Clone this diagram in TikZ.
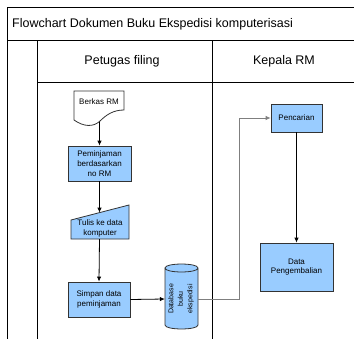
\documentclass[tikz,border=0pt]{standalone}
\usepackage{fontspec}
\setmainfont{Liberation Sans}
\usetikzlibrary{arrows.meta}
\definecolor{boxblue}{HTML}{99CCFF}
\definecolor{edgegray}{HTML}{333333}
\definecolor{flowgray}{HTML}{7F7F7F}
\begin{document}
\begin{tikzpicture}[x=1pt,y=-1pt,
  frame/.style={draw=black,line width=0.9pt},
  procbox/.style={draw=edgegray,fill=boxblue,line width=0.8pt,rectangle,inner sep=1pt,
    align=center,font=\fontsize{8}{9.8}\selectfont},
  boxtext/.style={align=center,inner sep=0pt,font=\fontsize{8}{10.5}\selectfont},
  shapeline/.style={draw=edgegray,fill=boxblue,line width=0.8pt},
  flow/.style={draw=black,line width=0.8pt,-{Latex[length=5pt,width=4.5pt]}},
  grayflow/.style={draw=flowgray,line width=0.8pt,-{Latex[length=5pt,width=4.5pt]}},
  heading/.style={font=\fontsize{12.5}{14}\selectfont,inner sep=0pt}]
\useasboundingbox (0,0) rectangle (354,338);
\clip (0,0) rectangle (354,338);
\fill[white] (0,0) rectangle (354,338);

% swimlane frame
\draw[frame] (7,345) -- (7,7) -- (360,7);
\draw[frame] (7,40) -- (360,40);
\draw[frame] (37,40) -- (37,345);
\draw[frame] (212,40) -- (212,345);
\draw[frame] (37,82) -- (360,82);
\node[heading,anchor=west] (title) at (12,24) {Flowchart Dokumen Buku Ekspedisi komputerisasi};
\node[heading] (lane1) at (122,61) {Petugas filing};
\node[heading] (lane2) at (284,61) {Kepala RM};

% document: Berkas RM
\coordinate (dtl) at (74,91);
\coordinate (dtr) at (124,91);
\coordinate (dbr) at (124,110);
\coordinate (dbl) at (74,120);
\coordinate (dbot) at (99.5,121.5);
\draw[draw=edgegray,fill=white,line width=0.8pt]
  (dtl) -- (dtr) -- (dbr)
  .. controls (113,110) and (106,115) .. (dbot)
  .. controls (93,127) and (84,127) .. (dbl) -- cycle;
\node[boxtext] (doc) at (99,102) {Berkas RM};

% process: peminjaman berdasarkan no RM
\node[procbox,minimum width=63pt,minimum height=35pt] (p1) at (99.5,163.5)
  {Peminjaman\\berdasarkan\\no RM};

% manual input
\coordinate (mitl) at (71,220);
\coordinate (mitr) at (129,205);
\coordinate (mibr) at (129,239);
\coordinate (mibl) at (71,239);
\coordinate (mitop) at (99.5,212.6);
\coordinate (mibot) at (99.5,239);
\draw[shapeline] (mitl) -- (mitr) -- (mibr) -- (mibl) -- cycle;
\node[boxtext] (mi) at (100,228.5) {Tulis ke data\\komputer};

% process: simpan data
\node[procbox,minimum width=62pt,minimum height=35pt] (p2) at (99,299.5)
  {Simpan data\\peminjaman};

% database cylinder
\fill[boxblue] (165,268) -- (165,325) .. controls (165,330.3) and (198,330.3) .. (198,325)
  -- (198,268) .. controls (198,262.7) and (165,262.7) .. (165,268) -- cycle;
\draw[edgegray,line width=0.8pt] (165,268) -- (165,325) .. controls (165,330.3) and (198,330.3) .. (198,325)
  -- (198,268) .. controls (198,262.7) and (165,262.7) .. (165,268)
  .. controls (165,273.3) and (198,273.3) .. (198,268);
\node[minimum width=33pt,minimum height=56pt,inner sep=0pt] (db) at (181.5,299) {};
\node[boxtext,rotate=90,font=\fontsize{7}{9.5}\selectfont] (dbtext) at (181,299) {Database\\buku\\ekspedisi};

% Kepala RM lane
\node[procbox,minimum width=51pt,minimum height=28pt] (k1) at (296.5,118) {Pencarian};
\node[procbox,minimum width=73pt,minimum height=48pt] (k2) at (296.5,267) {Data\\Pengembalian};

% connectors
\draw[flow] (dbot) -- (p1.north);
\draw[flow] (p1.south) -- (mitop);
\draw[flow] (mibot) -- (p2.north);
\draw[flow] (p2.east) -- (db.west);
\coordinate (bend) at (239,299);
\draw[grayflow] (db.east) -- (bend) |- (k1.west);
\draw[flow] (k1.south) -- (k2.north);
\end{tikzpicture}
\end{document}
